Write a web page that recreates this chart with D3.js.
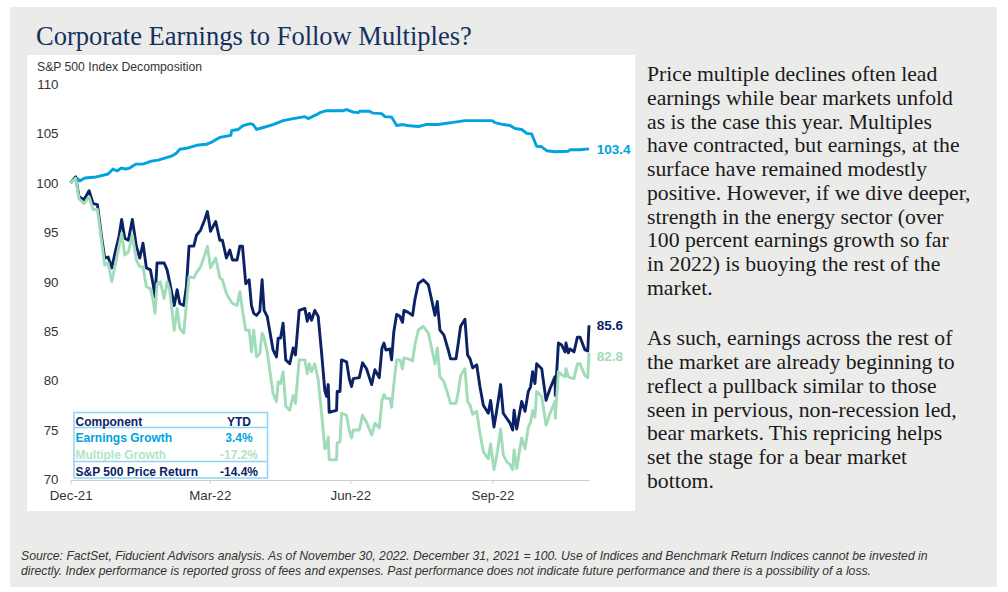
<!DOCTYPE html>
<html>
  <head>
    <meta charset="utf-8">
    <script src="https://d3js.org/d3.v7.min.js"></script>
    <style>
      body { margin: 0; background: #fff; }
      text { font-family: "Liberation Sans", Arial, sans-serif; }
      .serif { font-family: "Liberation Serif", "Times New Roman", serif; }
    </style>
  </head>
  <body>
    <div id="chart"></div>
    <script>
      // Days since Dec 31 2021, shared by the price return and multiple series
      const days = [0,3.2,5.4,8.6,11.9,14.5,17.3,19.9,22,24.2,26.6,29.1,31.3,33,35,37.3,39.9,42.5,44.7,46.8,49,51.6,53.3,54.6,55.9,58,60.5,62.4,64,67,68.9,70.6,73.2,74.9,76.6,79.7,81.4,84,86.8,88.5,90.5,93.9,96.5,98.2,100.8,103,104.7,107.7,109.5,111.2,113.3,115.5,117,118.5,120.3,122.4,123.9,125.2,127.2,131,133.2,134.3,135.8,137.5,139.2,141.8,144,145.5,147.9,151.6,153.1,154.4,155.9,158,160.2,162.4,164.5,165.6,166.7,167.3,172.1,172.5,174.3,175.3,178.6,180.3,181.8,182.9,186.8,188.9,191.5,194.8,196.9,199.7,201.5,202.8,204,206.6,207.7,209.2,211,213.1,214.8,215.7,218.5,221.3,222.8,225,228.2,231.5,233.6,235.8,237.3,239,241.6,244.4,245.9,249.4,250.9,252.4,255.2,256.9,258.5,260.2,262.8,264.9,267.1,270.3,271.8,274,276.2,278.3,280,282.2,284.4,286.1,287,288.7,291.9,294.1,296.2,297.7,299,300.5,301.6,304.9,307.7,310.3,313.5,313.7,315.7,317.8,320,320.6,322.1,323.2,325.8,328,329.7,332.9,334.7,335.5];
      const priceReturn = [100,100.6,98.6,98.3,99.2,97.9,97.8,94.6,92.4,92.5,91.4,93.2,94.6,96.3,94.4,94.2,96.3,93.6,92.4,93.9,91.4,91.2,89.8,88.5,91.9,91.9,91.9,91.2,90,87.6,89.2,87.8,87.6,89.5,93.6,93.6,94.7,95.2,96.3,97.1,95.1,96.1,94.2,94.2,92.4,93.2,92.2,92.2,93.6,93.6,89.8,90.2,87.6,86.8,86.6,87,90.2,87.1,86.5,83.1,82.4,84.3,84.3,85.8,82.1,81.7,83.3,82.6,87.1,87.3,86,86.8,86.1,87.1,86.5,82.8,79,78.4,79.6,76.8,77,78.9,78.9,82.1,81.9,80.2,79.4,80.2,80.3,81.8,81.2,79.6,81.1,80.3,83.3,83.8,83.1,83.2,82.1,85,86.7,86.5,85.9,87.1,86.9,86.6,88.2,89.8,90.2,89.7,88.2,86.6,88,85.1,84.6,83.1,82.2,82.2,83.8,85.5,86.2,82.6,82.2,81.3,81.6,79.4,77.5,76.7,78,75.3,77.4,79.6,76.7,76.2,75.7,75,77,75.1,77.9,76.9,78.9,79.4,80.9,79.7,81.7,81.2,78,79.2,80.4,78.5,83.8,83.6,82.9,83.8,82.8,83.2,82.9,84.4,84.4,83.1,83,85.6];
      const multipleGrowth = [100,100.5,98.4,97.9,98.6,97.3,97.3,94.2,91.7,91.9,90,91.9,93.6,94.9,92.7,93,94.7,92.2,91.5,91.5,89.5,89.3,88.2,86.8,89.8,90,88.3,90,89.2,85.1,87.3,85.3,84.8,87.8,90.5,90.4,90.9,91.5,92.7,93.6,91.4,92.4,90.4,90.2,88.8,88.2,87.8,87.6,89,87.1,85.1,85.1,82.9,85.1,82.4,82.7,84.8,84.3,82.9,78.7,77.9,79.9,79.7,80.9,77.4,77,78.5,77.7,82.1,82.1,80.7,81.7,80.9,81.7,80.1,76.7,73.1,73.3,74.3,72,72,73.7,73.8,76.7,76.5,75,74.2,75,75,76.5,75.8,74.5,75.7,75.2,78,78.6,78.2,78.2,77.3,79.7,82.1,82.1,81.2,82.3,82.2,82,83.6,85.1,85.5,84.8,83.3,81.7,83.3,80.4,79.9,78.5,77.7,77.7,78.9,80.5,81.2,77.9,77.5,76.6,76.9,74.7,72.8,72.1,73.6,71,72.8,75.1,72.5,71.8,71.5,71,73,71.1,74.2,73.1,75.3,75.8,77,76.3,78.9,78.4,75.5,76.7,77.9,76.2,80.9,80.6,80.4,81.2,80.4,80.3,80.2,81.7,81.7,80.5,80.3,82.8];

      // Earnings series has its own, smoother reading
      const earningsDays = [0,3.2,5.8,9.1,16.6,24.2,27.4,30,32.8,35.6,38.2,42.1,46.8,52.2,56.6,60.9,65.2,68.4,70.6,74.9,81.4,87.9,92.2,96.5,103.6,104.3,108.4,111.6,116.4,118.1,120.3,124.6,131,137.5,144,151.6,153.7,159.1,161.3,165.6,176.4,178.6,182.9,186.1,187.2,193.3,195.8,201.2,203.4,207.7,211,215.3,217.9,225,229.9,237.9,242.3,248.7,255.2,272.5,274.6,280,284.4,287.6,291.9,295.2,298.4,301.6,304.9,308.1,313.5,322.1,323.2,329.7,335.5];
      const earningsGrowth = [100,100.6,100.2,100.5,100.6,100.9,101.4,101.2,101.5,101.4,101.5,101.9,101.9,102.2,102.3,102.5,102.7,103,103.4,103.5,103.8,103.9,104.2,104.6,104.8,105.3,105.4,105.8,106,105.9,105.4,105.6,105.9,106.3,106.5,106.7,106.5,106.9,107.1,107.3,107.3,107.4,107.15,107.1,107.25,107.25,107.05,107,106.7,106.65,105.8,105.9,105.8,105.7,105.9,105.9,106,106.15,106.3,106.3,106.1,105.9,105.8,105.5,105.4,105,104.95,103.7,103.65,103.25,103.15,103.2,103.35,103.35,103.44];

      const yTicks = [70,75,80,85,90,95,100,105,110];
      const xTickDays = [0,90,181,273];
      const xTickLabels = ["Dec-21","Mar-22","Jun-22","Sep-22"];

      const tableRows = ["Component","Earnings Growth","Multiple Growth","S&P 500 Price Return"];
      const tableValues = ["YTD","3.4%","-17.2%","-14.4%"];

      const endLabels = ["103.4","85.6","82.8"];
      const endValues = [103.4,85.6,82.5];

      const bodyLines = [
        "Price multiple declines often lead",
        "earnings while bear markets unfold",
        "as is the case this year. Multiples",
        "have contracted, but earnings, at the",
        "surface have remained modestly",
        "positive. However, if we dive deeper,",
        "strength in the energy sector (over",
        "100 percent earnings growth so far",
        "in 2022) is buoying the rest of the",
        "market.",
        "",
        "As such, earnings across the rest of",
        "the market are already beginning to",
        "reflect a pullback similar to those",
        "seen in pervious, non-recession led,",
        "bear markets. This repricing helps",
        "set the stage for a bear market",
        "bottom."
      ];
      const footLines = [
        "Source: FactSet, Fiducient Advisors analysis. As of November 30, 2022. December 31, 2021 = 100. Use of Indices and Benchmark Return Indices cannot be invested in",
        "directly. Index performance is reported gross of fees and expenses. Past performance does not indicate future performance and there is a possibility of a loss."
      ];

      const navy = "#0b2265", blue = "#00a3e0", green = "#a0dcb8", grey = "#ebebea";

      const svg = d3.select("#chart").append("svg")
        .attr("width", 1008).attr("height", 592)
        .style("display", "block");

      svg.append("rect").attr("x", 10).attr("y", 7).attr("width", 987).attr("height", 580).attr("fill", grey);
      svg.append("rect").attr("x", 27).attr("y", 55).attr("width", 608).attr("height", 456).attr("fill", "#fff");

      svg.append("text").attr("class", "serif")
        .attr("x", 36).attr("y", 44.5)
        .attr("font-size", 26.5).attr("fill", "#14305f")
        .text("Corporate Earnings to Follow Multiples?");

      svg.append("text")
        .attr("x", 37).attr("y", 70.5)
        .attr("font-size", 12.2).attr("fill", "#333")
        .text("S&P 500 Index Decomposition");

      // Scales
      const x = d3.scaleLinear().domain([0, 335.5]).range([70.7, 589]);
      const y = d3.scaleLinear().domain([70, 110]).range([479.5, 84]);

      // Axes
      const xAxis = d3.axisBottom(x)
        .tickValues(xTickDays)
        .tickFormat((d, i) => xTickLabels[i])
        .tickSize(4).tickPadding(7).tickSizeOuter(0);
      const gx = svg.append("g").attr("transform", "translate(0,480)").call(xAxis);
      gx.select(".domain").attr("stroke", "#cfcfcf").attr("stroke-width", 1.2);
      gx.selectAll(".tick line").attr("stroke", "#cfcfcf").attr("y2", 4);
      gx.selectAll(".tick text").attr("font-size", 13.3).attr("fill", "#333");

      const yAxis = d3.axisLeft(y).tickValues(yTicks).tickSize(0).tickPadding(0);
      const gy = svg.append("g").attr("transform", "translate(58.5,0)").call(yAxis);
      gy.select(".domain").remove();
      gy.selectAll(".tick text").attr("font-size", 13.3).attr("fill", "#333");

      // Lines
      const line = d3.line().x(d => x(d[0])).y(d => y(d[1]));
      const drawLine = (xs, ys, color) => svg.append("path")
        .datum(xs.map((d, i) => [d, ys[i]]))
        .attr("d", line)
        .attr("fill", "none")
        .attr("stroke", color)
        .attr("stroke-width", 2.9)
        .attr("stroke-linejoin", "round");

      drawLine(earningsDays, earningsGrowth, blue);
      drawLine(days, priceReturn, navy);
      drawLine(days, multipleGrowth, green);

      // End labels
      [blue, navy, green].forEach((color, i) => {
        svg.append("text")
          .attr("x", 596.7).attr("y", y(endValues[i]) + 4.7)
          .attr("font-size", 13.5).attr("font-weight", "bold").attr("fill", color)
          .text(endLabels[i]);
      });

      // Table
      const table = svg.append("g");
      const rowColors = [navy, blue, "#b2e4c6", navy];
      const rowBase = [425.5, 442, 458.5, 475.5];
      table.append("rect").attr("x", 74).attr("y", 412.5)
        .attr("width", 193.5).attr("height", 65.5)
        .attr("fill", "#fff").attr("stroke", "#8fd3f4").attr("stroke-width", 1.5);
      [427.5, 461.5].forEach(ly => {
        table.append("line").attr("x1", 74).attr("x2", 267.5).attr("y1", ly).attr("y2", ly)
          .attr("stroke", "#8fd3f4").attr("stroke-width", 1.3);
      });
      tableRows.forEach((row, i) => {
        table.append("text").attr("x", 75.5).attr("y", rowBase[i])
          .attr("font-size", 12).attr("font-weight", "bold").attr("fill", rowColors[i]).text(row);
        table.append("text").attr("x", 239).attr("y", rowBase[i]).attr("text-anchor", "middle")
          .attr("font-size", 12).attr("font-weight", "bold").attr("fill", rowColors[i]).text(tableValues[i]);
      });

      // Commentary, second paragraph sits a little lower
      svg.append("g").selectAll("text").data(bodyLines).join("text")
        .attr("class", "serif")
        .attr("x", 647).attr("y", (d, i) => 81 + i * 23.75 + (i > 10 ? 3 : 0))
        .attr("font-size", 21.7).attr("fill", "#1a1a1a")
        .text(d => d);

      // Footnote
      svg.append("g").selectAll("text").data(footLines).join("text")
        .attr("x", 21).attr("y", (d, i) => 560 + i * 15)
        .attr("font-size", 12.2).attr("font-style", "italic").attr("fill", "#333")
        .text(d => d);
    </script>
  </body>
</html>
